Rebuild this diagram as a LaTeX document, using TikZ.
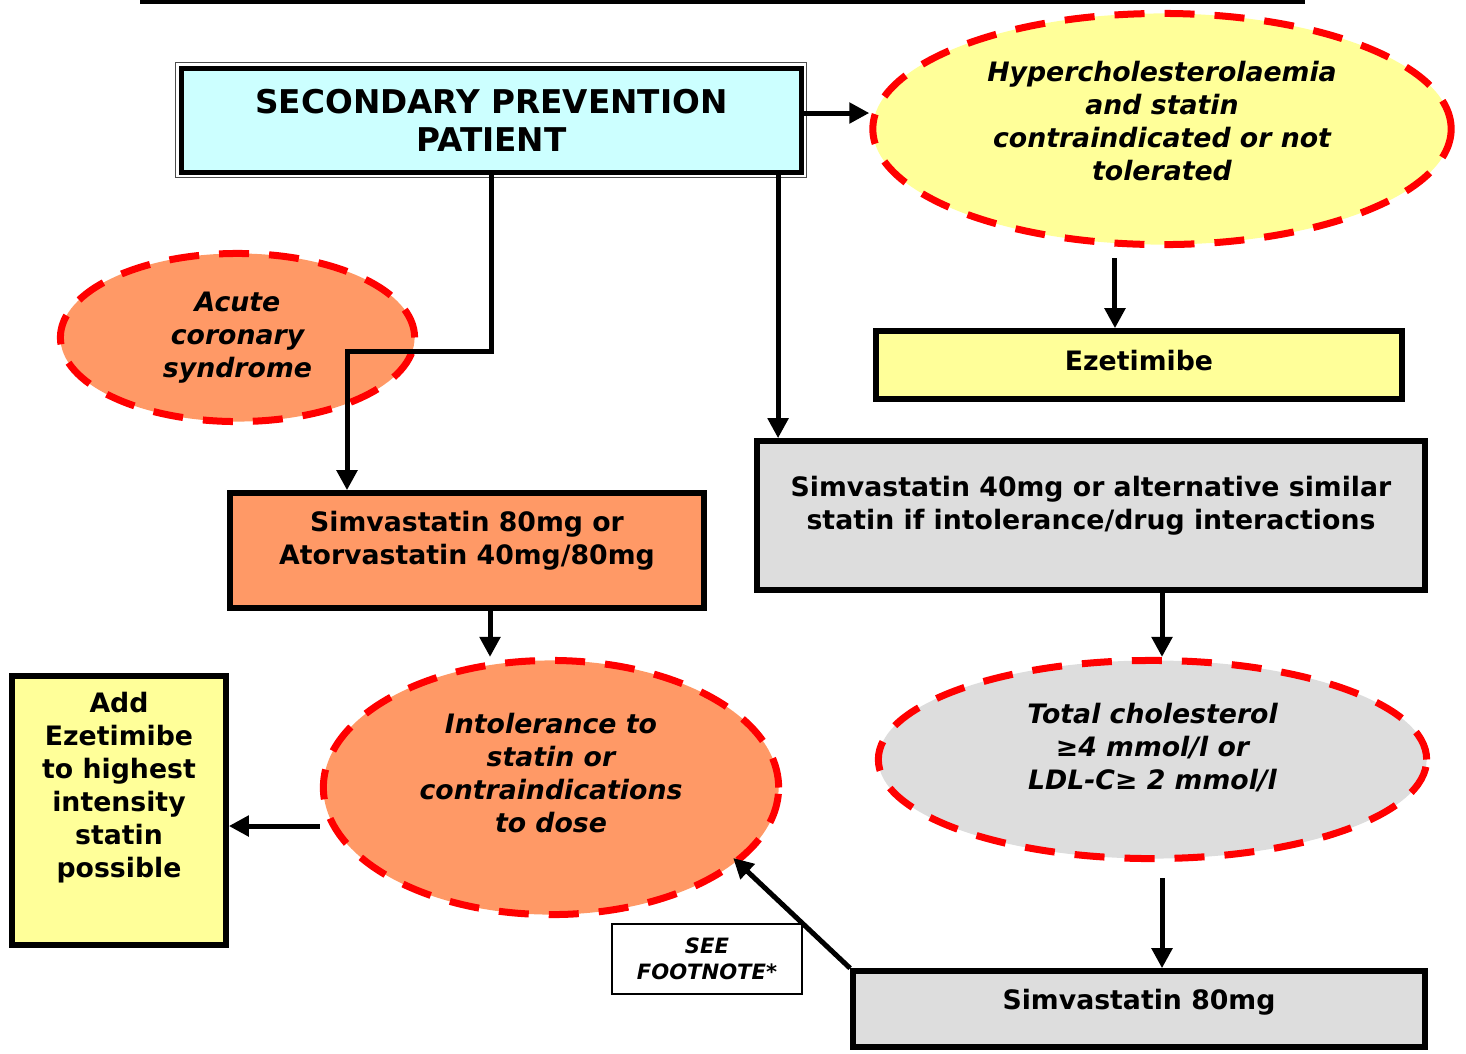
\documentclass[tikz,border=0pt]{standalone}
\usepackage{fontspec}
\setmainfont{DejaVu Sans}
\usetikzlibrary{shapes, calc, arrows.meta, positioning}

\definecolor{paleCyan}{HTML}{CCFFFF}
\definecolor{paleYellow}{HTML}{FFFF99}
\definecolor{salmon}{HTML}{FF9966}
\definecolor{lightGrey}{HTML}{DDDDDD}

% depth below the last line, pushes the text up inside its shape
\newcommand{\liftby}[1]{\rule[-#1]{0pt}{0pt}}

\begin{document}
\begin{tikzpicture}[x=0.01cm, y=-0.01cm,
  box/.style={draw, line width=0.055cm, inner sep=0pt, align=center,
              font=\fontsize{7.6}{9.4}\selectfont\bfseries},
  cloud/.style={ellipse, draw=red, line width=0.07cm,
                dash pattern=on 0.3cm off 0.2cm, inner sep=0pt, align=center,
                font=\fontsize{7.6}{9.4}\selectfont\bfseries\itshape},
  arr/.style={line width=0.05cm, -{Triangle[length=0.2cm, width=0.2cm]}}]
\useasboundingbox (0,0) rectangle (1466,1053);

\draw[line width=0.04cm] (140,1.5) -- (1305,1.5);

% left column
\node[box, fill=paleCyan, minimum width=6.2cm, minimum height=1.04cm,
      font=\fontsize{9.3}{10.8}\selectfont\bfseries] (top) at (491.5,120.5)
      {SECONDARY PREVENTION\\PATIENT};
\draw[line width=0.015cm, black!70] ($(top.north west)+(-3,-3)$) rectangle ($(top.south east)+(2,2)$);
\node[cloud, fill=salmon, minimum width=3.54cm, minimum height=1.68cm] (acs) at (237.5,337.5)
      {Acute\\coronary\\syndrome};
\node[box, fill=salmon, minimum width=4.74cm, minimum height=1.15cm] (orange) at (467,550.5)
      {Simvastatin 80mg or\\Atorvastatin 40mg/80mg\liftby{0.26cm}};
\node[cloud, fill=salmon, minimum width=4.55cm, minimum height=2.54cm] (intol) at (551,787.5)
      {Intolerance to\\statin or\\contraindications\\to dose\liftby{0.3cm}};
\node[box, fill=paleYellow, minimum width=2.14cm, minimum height=2.69cm] (add) at (119,810.5)
      {Add\\Ezetimibe\\to highest\\intensity\\statin\\possible\liftby{0.52cm}};
\node[draw, line width=0.015cm, fill=white, minimum width=1.9cm, minimum height=0.7cm,
      inner sep=0pt, align=center, font=\fontsize{6}{7.4}\selectfont\bfseries\itshape] (foot) at (707,959)
      {SEE\\FOOTNOTE*};

% right column
\node[cloud, fill=paleYellow, minimum width=5.78cm, minimum height=2.31cm] (hyper) at (1162,129)
      {Hypercholesterolaemia\\and statin\\contraindicated or not\\tolerated\liftby{0.16cm}};
\node[box, fill=paleYellow, minimum width=5.26cm, minimum height=0.68cm] (ezet) at (1139,365)
      {Ezetimibe\liftby{0.1cm}};
\node[box, fill=lightGrey, minimum width=6.68cm, minimum height=1.49cm] (grey) at (1091,515.5)
      {Simvastatin 40mg or alternative similar\\statin if intolerance/drug interactions\liftby{0.26cm}};
\node[cloud, fill=lightGrey, minimum width=5.48cm, minimum height=1.98cm] (total) at (1152.5,759.5)
      {Total cholesterol\\≥4 mmol/l or\\LDL-C≥ 2 mmol/l\liftby{0.26cm}};
\node[box, fill=lightGrey, minimum width=5.72cm, minimum height=0.76cm] (simv) at (1139,1009)
      {Simvastatin 80mg\liftby{0.2cm}};

% where the connectors leave or meet off centre
\coordinate (bend) at (347,351);
\coordinate (hyperIn) at (0,113);
\coordinate (addIn) at (0,826);
\coordinate (rightCol) at (1162,0);
\coordinate (greyIn) at ([xshift=0.24cm]grey.north west);
\coordinate (ezetIn) at ([xshift=-0.24cm]ezet.north);
\coordinate (intolIn) at ([xshift=0.23cm]orange.south);

\draw[arr] (top.south) |- (bend) -- (bend |- orange.north);
\draw[arr] (greyIn |- top.south) -- (greyIn);
\draw[arr] (top.east |- hyperIn) -- (hyper.west |- hyperIn);
\draw[arr] ($(ezetIn |- hyper.south)+(0,10)$) -- (ezetIn);
\draw[arr] (intolIn) -- (intolIn |- intol.north);
\draw[arr] (intol.west |- addIn) -- (add.east |- addIn);
\draw[arr] (rightCol |- grey.south) -- (rightCol |- total.north);
\draw[arr] ($(rightCol |- total.south)+(0,16)$) -- (rightCol |- simv.north);
\draw[arr, shorten >=-0.08cm] (simv.north west) -- (intol.-22);
\end{tikzpicture}
\end{document}
